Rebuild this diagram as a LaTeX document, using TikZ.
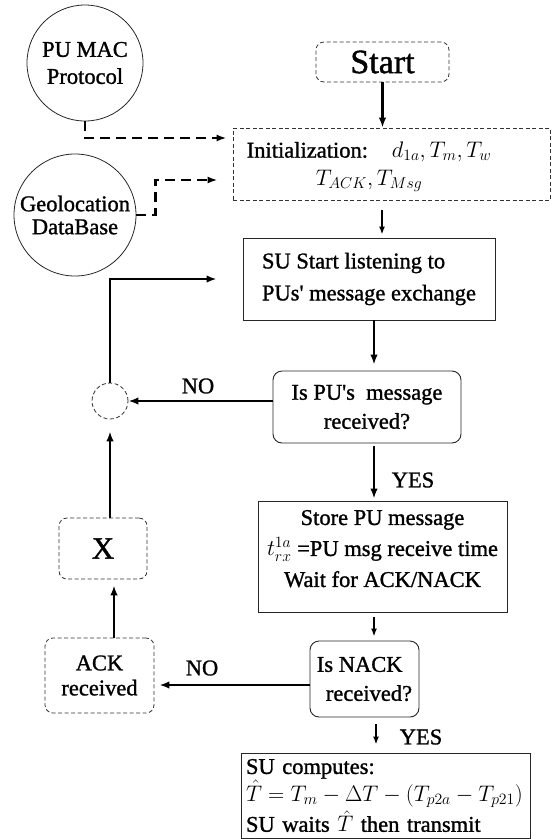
\RequirePackage{fix-cm}
\documentclass[tikz,border=0pt]{standalone}
\usepackage{fontspec}
\setmainfont{Liberation Serif}[FakeBold=1.2]
\usetikzlibrary{arrows.meta,calc}
\tikzset{
  base/.style={font=\fontsize{22.5}{28}\selectfont, inner sep=0pt, text=black},
  solidbox/.style={base, draw=black!85, line width=0.9pt, rectangle},
  roundbox/.style={solidbox, rounded corners=9pt},
  dashbox/.style={base, draw=black!80, line width=0.8pt, dash pattern=on 4pt off 2.5pt, rectangle},
  dashround/.style={dashbox, rounded corners=8pt},
  circlebox/.style={base, draw=black!85, circle, line width=0.8pt},
  arr/.style={line width=2.6pt, -{Latex[length=10pt,width=7.5pt]}},
  sarr/.style={line width=2pt, -{Latex[length=8pt,width=6pt]}},
  darr/.style={line width=2.8pt, dash pattern=on 10pt off 6pt, -{Latex[length=10pt,width=7pt]}},
  lbl/.style={font=\fontsize{22.5}{22.5}\selectfont, inner sep=0pt}
}
\begin{document}
\begin{tikzpicture}[x=1pt,y=-1pt]
\useasboundingbox (0,0) rectangle (552,839);
% nodes
\node[circlebox, minimum size=116pt, align=center, font=\fontsize{22.5}{27}\selectfont] (pumac) at (85,63) {PU MAC\\Protocol};
\node[circlebox, minimum size=122pt, align=center, font=\fontsize{22.5}{23}\selectfont] (geo) at (75,215) {Geolocation\\DataBase};
\node[dashround, minimum width=133pt, minimum height=40pt, font=\fontsize{34}{34}\selectfont] (start) at (382.5,62) {Start};
\node[dashbox, minimum width=317pt, minimum height=72pt] (init) at (391.5,164) {};
\node[base, align=center, font=\fontsize{22.5}{28}\selectfont] (initt) at (369,167) {Initialization:\hspace{24pt}$d_{1a}, T_m, T_w$\\$T_{ACK}, T_{Msg}$};
\node[solidbox, align=left, minimum width=252pt, minimum height=82pt, font=\fontsize{22.5}{32}\selectfont] (su) at (369,279) {SU Start listening to\\PUs\textquotesingle{} message exchange};
\node[roundbox, align=center, minimum width=188pt, minimum height=72pt, font=\fontsize{22.5}{29}\selectfont] (ispu) at (367,407) {Is PU\textquotesingle s\ \ message\\received?};
\node[circle, draw=black!80, line width=0.8pt, dash pattern=on 4pt off 2.5pt, minimum size=36pt, inner sep=0pt] (join) at (110,401) {};
\node[solidbox, align=center, minimum width=249pt, minimum height=111pt, text depth=16pt, font=\fontsize{22.5}{31}\selectfont] (store) at (382.5,556.5) {Store PU message\\$t^{1a}_{rx}$ =PU msg receive time\\Wait for ACK/NACK};
\node[roundbox, align=left, minimum width=109pt, minimum height=76pt, font=\fontsize{22.5}{29}\selectfont] (nack) at (364.5,679) {Is NACK\\\hspace*{9pt}received?};
\node[dashround, align=center, minimum width=109pt, minimum height=75pt, font=\fontsize{22.5}{25}\selectfont] (ack) at (99.5,675.5) {ACK\\received};
\node[dashround, minimum width=88pt, minimum height=61pt, font=\fontsize{31}{31}\selectfont] (xbox) at (103,548.5) {X};
\node[solidbox, align=left, text width=279pt, inner xsep=5pt, minimum height=85pt, font=\fontsize{22.5}{26}\selectfont] (comp) at (385.5,795.5) {SU computes:\\$\hat{T} = T_m - \Delta T - (T_{p2a} - T_{p21})$\\[2pt]SU waits $\hat{T}$ then transmit};
% labels
\node[lbl] (no1) at (198,386) {NO};
\node[lbl] (yes1) at (413,480) {YES};
\node[lbl] (no2) at (202,668) {NO};
\node[lbl] (yes2) at (421,737) {YES};
% helper coordinates
\coordinate (col) at (374,0);
\coordinate (c2) at (382,0);
\coordinate (c3) at (376,0);
\coordinate (c4) at (114,0);
\coordinate (c5) at (0,685);
% connectors
\draw[arr] (start.south) -- (start.south |- init.north);
\draw[sarr] ($(init.south -| c2)+(0,10)$) -- ($(su.north -| c2)+(0,-3)$);
\draw[arr] (su.south -| col) -- ($(ispu.north -| col)+(0,-6)$);
\draw[arr] ($(ispu.south -| col)+(0,3)$) -- ($(store.north -| col)+(0,-2)$);
\draw[sarr] ($(store.south -| col)+(0,5)$) -- ($(nack.north -| col)+(0,-4)$);
\draw[sarr] ($(nack.south -| c3)+(0,7)$) -- ($(comp.north -| c3)+(0,-8)$);
\draw[arr] (ispu.west |- join.east) -- (join.east);
\draw[arr, shorten >=26pt] (join.north) |- (su.west);
\draw[arr, shorten >=12pt] (xbox.north -| join) -- (join.south);
\draw[arr] (ack.north -| c4) -- ($(xbox.south -| c4)+(0,6)$);
\draw[arr] (nack.west |- c5) -- ($(ack.east |- c5)+(5,0)$);
\draw[darr, shorten >=6pt] (pumac.south) |- ($(init.west)+(0,-26)$);
\draw[darr, shorten >=15pt] (geo.east) -- ++(19,0) |- ($(init.west)+(0,16)$);
\end{tikzpicture}
\end{document}
